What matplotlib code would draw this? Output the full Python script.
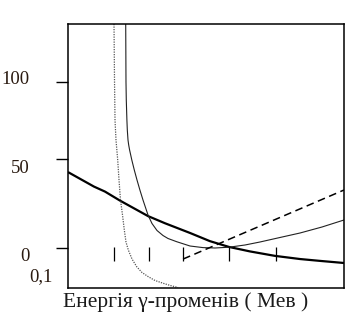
import matplotlib
matplotlib.use("Agg")
import matplotlib.pyplot as plt

plt.rcParams['font.family'] = ['Liberation Serif', 'DejaVu Serif']

# curves, in plot units (x: 0..10 across the frame, y: 0..100 up the frame)
thick_x = [0.0, 0.94, 1.34, 1.88, 2.90, 3.51, 4.42, 5.14, 5.83, 6.59, 7.50,
           8.41, 9.13, 10.0]
thick_y = [43.8, 38.3, 36.4, 33.0, 27.1, 24.4, 20.7, 17.6, 15.4, 13.7, 12.0,
           10.8, 10.1, 9.3]

thin_x = [2.091, 2.101, 2.112, 2.134, 2.149, 2.174, 2.199, 2.232, 2.312,
          2.402, 2.500, 2.605, 2.717, 2.899, 3.043, 3.225, 3.442, 3.623,
          3.938, 4.420, 4.891, 5.326, 5.833, 6.413, 6.957, 7.681, 8.406,
          9.203, 10.0]
thin_y = [100.0, 77.99, 71.16, 63.57, 59.77, 55.98, 54.08, 52.18, 48.39,
          44.59, 40.80, 37.00, 33.21, 27.51, 24.29, 21.63, 19.73, 18.60,
          17.38, 15.75, 15.14, 14.99, 15.29, 16.13, 17.27, 18.98, 20.68,
          22.96, 25.62]

dot_x = [1.667, 1.685, 1.703, 1.739, 1.801, 1.848, 1.902, 1.975, 2.040,
         2.101, 2.185, 2.319, 2.489, 2.681, 2.909, 3.152, 3.453, 3.732, 3.986]
dot_y = [100.0, 78.75, 63.57, 55.98, 48.39, 40.80, 33.21, 27.51, 21.82,
         17.27, 14.23, 10.82, 7.89, 5.69, 4.10, 2.66, 1.59, 0.68, 0.0]

dash_x = [4.17, 10.0]
dash_y = [10.8, 37.0]

# small marks along the curves
mark_x = [1.68, 2.93, 4.17, 5.84, 7.53]
mark_y0, mark_y1 = 10.1, 15.4

ytick_pos = [14.9, 48.6, 78.0]
ylabels = ['0', '50', '100']
ylabel_y = [11.8, 45.2, 79.1]
extra_label = '0,1'
xlabel = 'Енергія γ-променів ( Мев )'

txt_color = '#2a1a10'

fig = plt.figure(figsize=(3.55, 3.22), dpi=100)
ax = fig.add_axes([68 / 355, 34.5 / 322, 276 / 355, 263.5 / 322])
ax.set_xlim(0, 10)
ax.set_ylim(0, 100)

ax.plot(thick_x, thick_y, color='black', lw=1.6, solid_capstyle='butt')
ax.plot(thin_x, thin_y, color='#222222', lw=0.8)
ax.plot(dot_x, dot_y, color='#555555', lw=0.9, linestyle=(0, (1, 1)))
ax.plot(dash_x, dash_y, color='black', lw=1.1, linestyle=(0, (5, 3)))
ax.vlines(mark_x, mark_y0, mark_y1, color='black', lw=0.9)

for s in ax.spines.values():
    s.set_linewidth(1.1)

ax.set_xticks([])
ax.set_yticks(ytick_pos)
ax.set_yticklabels([])
ax.tick_params(axis='y', direction='out', length=8.6, width=1.0)

for lab, yy in zip(ylabels, ylabel_y):
    ax.text(-1.40, yy, lab, ha='right', va='center', fontsize=13.5,
            color=txt_color, clip_on=False)
ax.text(-0.55, 4.0, extra_label, ha='right', va='center', fontsize=13.5,
        color=txt_color, clip_on=False)
ax.text(-0.18, -7.3, xlabel, ha='left', va='baseline', fontsize=15.5,
        color='#1a1a1a', clip_on=False)

fig.savefig('out.png', dpi=100)
